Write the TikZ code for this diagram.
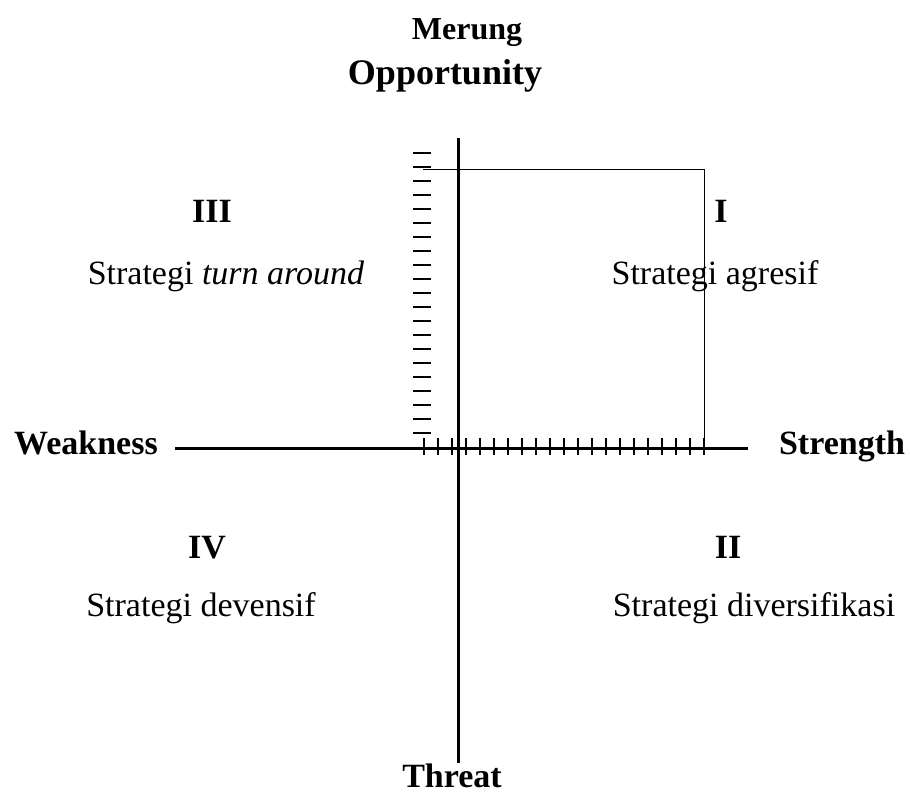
\documentclass[tikz,border=0pt]{standalone}
\usepackage{fontspec}
\setmainfont{Liberation Serif}

\begin{document}
\begin{tikzpicture}[x=0.5pt,y=-0.5pt,
    lbl/.style={font=\fontsize{17}{20}\selectfont\bfseries,anchor=base},
    txt/.style={font=\fontsize{17}{20}\selectfont,anchor=base},
    axis/.style={line width=1.5pt},
    tick/.style={line width=0.8pt}]
      \useasboundingbox (0,0) rectangle (910,794);

      % titles
      \node[lbl,font=\fontsize{16}{19}\selectfont\bfseries] (merung) at (467,39) {Merung};
      \node[lbl,font=\fontsize{18}{21}\selectfont\bfseries] (opp) at (445,84) {Opportunity};
      \node[lbl] (threat) at (452,787) {Threat};
      \node[lbl] (weak) at (86,454) {Weakness};
      \node[lbl] (strong) at (842,454) {Strength};

      % axes
      \coordinate (top) at (458,138);
      \coordinate (bot) at (458,763);
      \coordinate (left) at (175,448);
      \coordinate (right) at (748,448);
      \draw[axis] (top) -- (bot);
      \draw[axis] (left) -- (right);

      % position box
      \coordinate (boxa) at (423,169);
      \coordinate (boxb) at (704,169);
      \coordinate (boxc) at (704,448);
      \draw[line width=0.5pt] (boxa) -- (boxb) -- (boxc);

      \foreach \i in {0,...,20}
        \draw[tick] (424+14*\i,438) -- (424+14*\i,455);
      \foreach \j in {0,...,20}
        \draw[tick] (413,153+14*\j) -- (431,153+14*\j);

      % quadrants
      \node[lbl] (q3) at (212,222) {III};
      \node[txt] (s3) at (226,284) {Strategi \textit{turn around}};
      \node[lbl] (q1) at (721,222) {I};
      \node[txt] (s1) at (715,284) {Strategi agresif};
      \node[lbl] (q4) at (207,558) {IV};
      \node[txt] (s4) at (201,616) {Strategi devensif};
      \node[lbl] (q2) at (728,558) {II};
      \node[txt] (s2) at (754,616) {Strategi diversifikasi};
\end{tikzpicture}
\end{document}
